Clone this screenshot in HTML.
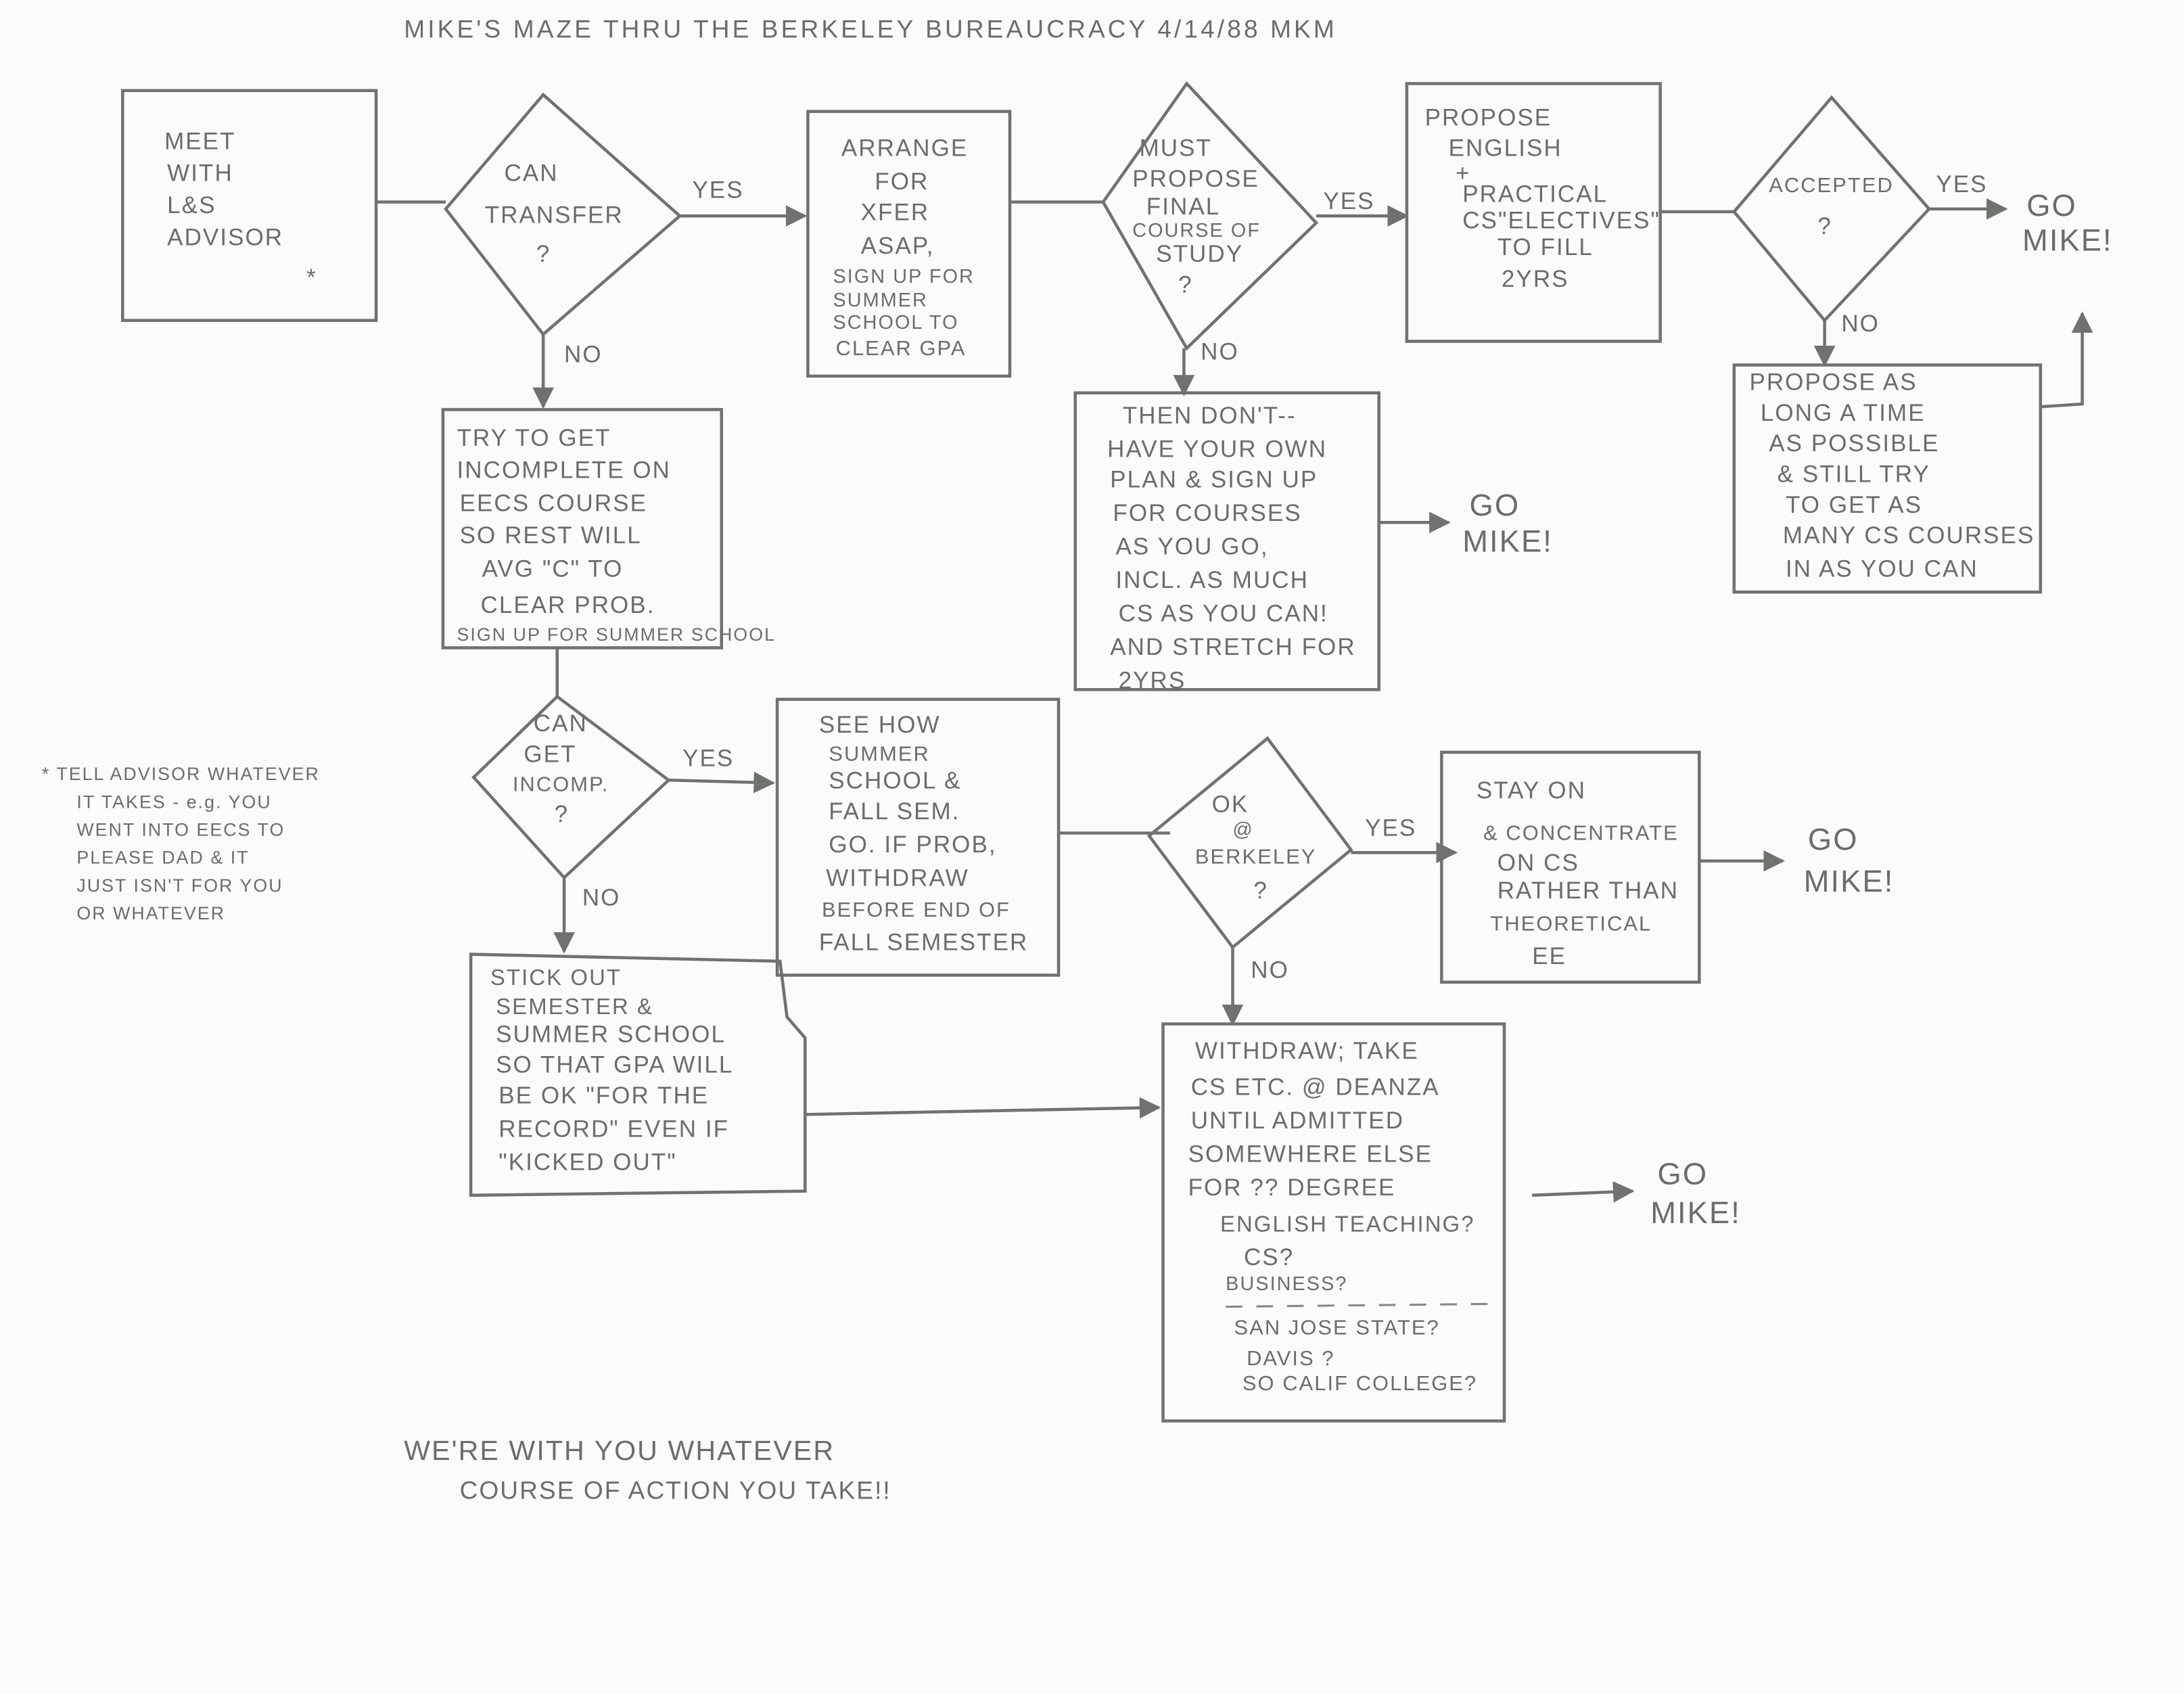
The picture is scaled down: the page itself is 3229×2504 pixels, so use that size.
<!DOCTYPE html>
<html><head><meta charset="utf-8"><style>
html,body{margin:0;padding:0;background:#fbfbfb;}
svg{display:block;}
text{font-family:"Liberation Sans",sans-serif;fill:#6a6d6a;font-size:17px;letter-spacing:1px;}
.s{stroke:#6f726f;stroke-width:2.2;fill:none;}
</style></head><body>
<svg width="3229" height="2504" viewBox="0 0 1568 1216" xmlns="http://www.w3.org/2000/svg">
<defs><marker id="a" viewBox="0 0 10 10" refX="9" refY="5" markerWidth="7" markerHeight="7" orient="auto"><path d="M0,0 L10,5 L0,10 z" fill="#6f726f"/></marker></defs>
<text x="290" y="27" style="font-size:18px;letter-spacing:2px">MIKE'S MAZE THRU THE BERKELEY BUREAUCRACY  4/14/88 MKM</text>

<!-- box1 -->
<rect class="s" x="88" y="65" width="182" height="165"/>
<text x="118" y="107">MEET</text><text x="120" y="130">WITH</text><text x="120" y="153">L&amp;S</text><text x="120" y="176">ADVISOR</text><text x="220" y="205">*</text>
<line class="s" x1="270" y1="145" x2="320" y2="145"/>
<polygon class="s" points="320,150 390,68 488,155 390,240"/>
<text x="362" y="130">CAN</text><text x="348" y="160">TRANSFER</text><text x="385" y="188">?</text>
<line class="s" x1="488" y1="155" x2="578" y2="155" marker-end="url(#a)"/><text x="497" y="142">YES</text>
<rect class="s" x="580" y="80" width="145" height="190"/>
<text x="604" y="112">ARRANGE</text><text x="628" y="136">FOR</text><text x="618" y="158">XFER</text><text x="618" y="182">ASAP,</text>
<text x="598" y="203" style="font-size:14px">SIGN UP FOR</text><text x="598" y="220" style="font-size:14px">SUMMER</text><text x="598" y="236" style="font-size:14px">SCHOOL TO</text><text x="600" y="255" style="font-size:15px">CLEAR GPA</text>
<line class="s" x1="725" y1="145" x2="792" y2="145"/>
<polygon class="s" points="792,145 852,60 945,160 852,250"/>
<text x="818" y="112">MUST</text><text x="813" y="134">PROPOSE</text><text x="823" y="154">FINAL</text><text x="813" y="170" style="font-size:14px">COURSE OF</text><text x="830" y="188">STUDY</text><text x="846" y="210">?</text>
<line class="s" x1="945" y1="155" x2="1010" y2="155" marker-end="url(#a)"/><text x="950" y="150">YES</text>
<rect class="s" x="1010" y="60" width="182" height="185"/>
<text x="1023" y="90">PROPOSE</text><text x="1040" y="112">ENGLISH</text><text x="1045" y="130">+</text><text x="1050" y="145">PRACTICAL</text><text x="1050" y="164">CS"ELECTIVES"</text><text x="1075" y="183">TO FILL</text><text x="1078" y="206">2YRS</text>
<line class="s" x1="1192" y1="152" x2="1245" y2="152"/>
<polygon class="s" points="1245,152 1315,70 1385,150 1310,230"/>
<text x="1270" y="138" style="font-size:15px">ACCEPTED</text><text x="1305" y="168">?</text>
<line class="s" x1="1385" y1="150" x2="1440" y2="150" marker-end="url(#a)"/><text x="1390" y="138">YES</text>
<text x="1455" y="155" style="font-size:22px">GO</text><text x="1452" y="180" style="font-size:22px">MIKE!</text>
<line class="s" x1="1310" y1="230" x2="1310" y2="262" marker-end="url(#a)"/><text x="1322" y="238">NO</text>
<rect class="s" x="1245" y="262" width="220" height="163"/>
<text x="1256" y="280">PROPOSE AS</text><text x="1264" y="302">LONG A TIME</text><text x="1270" y="324">AS POSSIBLE</text><text x="1276" y="346">&amp; STILL TRY</text><text x="1282" y="368">TO GET AS</text><text x="1280" y="390">MANY CS COURSES</text><text x="1282" y="414">IN AS YOU CAN</text>
<polyline class="s" points="1465,292 1495,290 1495,225" marker-end="url(#a)"/>

<line class="s" x1="850" y1="250" x2="850" y2="283" marker-end="url(#a)"/><text x="862" y="258">NO</text>
<rect class="s" x="772" y="282" width="218" height="213"/>
<text x="806" y="304">THEN DON'T--</text><text x="795" y="328">HAVE YOUR OWN</text><text x="797" y="350">PLAN &amp; SIGN UP</text><text x="799" y="374">FOR COURSES</text><text x="801" y="398">AS YOU GO,</text><text x="801" y="422">INCL. AS MUCH</text><text x="803" y="446">CS AS YOU CAN!</text><text x="797" y="470">AND STRETCH FOR</text><text x="803" y="494">2YRS</text>
<line class="s" x1="990" y1="375" x2="1040" y2="375" marker-end="url(#a)"/>
<text x="1055" y="370" style="font-size:22px">GO</text><text x="1050" y="396" style="font-size:22px">MIKE!</text>

<line class="s" x1="390" y1="240" x2="390" y2="292" marker-end="url(#a)"/><text x="405" y="260">NO</text>
<rect class="s" x="318" y="294" width="200" height="171"/>
<text x="328" y="320">TRY TO GET</text><text x="328" y="343">INCOMPLETE ON</text><text x="330" y="367">EECS COURSE</text><text x="330" y="390">SO REST WILL</text><text x="346" y="414">AVG "C" TO</text><text x="345" y="440">CLEAR PROB.</text><text x="328" y="460" style="font-size:13px">SIGN UP FOR SUMMER SCHOOL</text>
<line class="s" x1="400" y1="465" x2="400" y2="500"/>
<polygon class="s" points="340,558 400,500 480,560 405,630"/>
<text x="383" y="525">CAN</text><text x="376" y="547">GET</text><text x="368" y="568" style="font-size:15px">INCOMP.</text><text x="398" y="590">?</text>
<line class="s" x1="480" y1="560" x2="555" y2="562" marker-end="url(#a)"/><text x="490" y="550">YES</text>
<rect class="s" x="558" y="502" width="202" height="198"/>
<text x="588" y="526">SEE HOW</text><text x="595" y="546" style="font-size:15px">SUMMER</text><text x="595" y="566">SCHOOL &amp;</text><text x="595" y="588">FALL SEM.</text><text x="595" y="612">GO. IF PROB,</text><text x="593" y="636">WITHDRAW</text><text x="590" y="658" style="font-size:15px">BEFORE END OF</text><text x="588" y="682">FALL SEMESTER</text>
<line class="s" x1="760" y1="598" x2="840" y2="598"/>
<polygon class="s" points="825,600 910,530 970,610 885,680"/>
<text x="870" y="583">OK</text><text x="885" y="600" style="font-size:14px">@</text><text x="858" y="620" style="font-size:15px">BERKELEY</text><text x="900" y="645">?</text>
<line class="s" x1="970" y1="612" x2="1045" y2="612" marker-end="url(#a)"/><text x="980" y="600">YES</text>
<rect class="s" x="1035" y="540" width="185" height="165"/>
<text x="1060" y="573">STAY ON</text><text x="1065" y="603" style="font-size:15px">&amp; CONCENTRATE</text><text x="1075" y="625">ON CS</text><text x="1075" y="645">RATHER THAN</text><text x="1070" y="668" style="font-size:15px">THEORETICAL</text><text x="1100" y="692">EE</text>
<line class="s" x1="1220" y1="618" x2="1280" y2="618" marker-end="url(#a)"/>
<text x="1298" y="610" style="font-size:22px">GO</text><text x="1295" y="640" style="font-size:22px">MIKE!</text>

<line class="s" x1="405" y1="630" x2="405" y2="683" marker-end="url(#a)"/><text x="418" y="650">NO</text>
<path class="s" d="M338,685 L560,690 L565,730 L578,745 L578,855 L338,858 Z"/>
<text x="352" y="707" style="font-size:16px">STICK OUT</text><text x="356" y="728" style="font-size:16px">SEMESTER &amp;</text><text x="356" y="748">SUMMER SCHOOL</text><text x="356" y="770">SO THAT GPA WILL</text><text x="358" y="792">BE OK "FOR THE</text><text x="358" y="816">RECORD" EVEN IF</text><text x="358" y="840">"KICKED OUT"</text>
<line class="s" x1="578" y1="800" x2="832" y2="795" marker-end="url(#a)"/>
<line class="s" x1="885" y1="680" x2="885" y2="735" marker-end="url(#a)"/><text x="898" y="702">NO</text>
<rect class="s" x="835" y="735" width="245" height="285"/>
<text x="858" y="760">WITHDRAW; TAKE</text><text x="855" y="786">CS ETC. @ DEANZA</text><text x="855" y="810">UNTIL ADMITTED</text><text x="853" y="834">SOMEWHERE ELSE</text><text x="853" y="858">FOR ?? DEGREE</text>
<text x="876" y="884" style="font-size:16px">ENGLISH TEACHING?</text><text x="893" y="908">CS?</text><text x="880" y="926" style="font-size:14px">BUSINESS?</text>
<line x1="880" y1="938" x2="1070" y2="936" stroke="#888" stroke-width="1.5" stroke-dasharray="12,10"/>
<text x="886" y="958" style="font-size:15px">SAN JOSE STATE?</text><text x="895" y="980" style="font-size:15px">DAVIS ?</text><text x="892" y="998" style="font-size:15px">SO CALIF COLLEGE?</text>
<line class="s" x1="1100" y1="858" x2="1172" y2="855" marker-end="url(#a)"/>
<text x="1190" y="850" style="font-size:22px">GO</text><text x="1185" y="878" style="font-size:22px">MIKE!</text>

<text x="30" y="560" style="font-size:13px">* TELL ADVISOR WHATEVER</text><text x="55" y="580" style="font-size:13px">IT TAKES - e.g. YOU</text><text x="55" y="600" style="font-size:13px">WENT INTO EECS TO</text><text x="55" y="620" style="font-size:13px">PLEASE DAD &amp; IT</text><text x="55" y="640" style="font-size:13px">JUST ISN'T FOR YOU</text><text x="55" y="660" style="font-size:13px">OR WHATEVER</text>

<text x="290" y="1048" style="font-size:20px">WE'RE WITH YOU WHATEVER</text>
<text x="330" y="1076" style="font-size:18px">COURSE OF ACTION YOU TAKE!!</text>
</svg>
</body></html>
